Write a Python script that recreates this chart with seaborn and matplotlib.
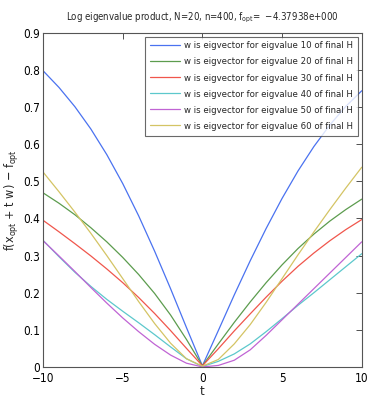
import matplotlib
matplotlib.use("Agg")
import matplotlib.pyplot as plt
import seaborn as sns
import pandas as pd

t = [-10, -9, -8, -7, -6, -5, -4, -3, -2, -1, 0, 1, 2, 3, 4, 5, 6, 7, 8, 9, 10]

eig10 = [0.798, 0.753, 0.701, 0.641, 0.572, 0.494, 0.407, 0.312, 0.211, 0.106, 0.003,
         0.098, 0.194, 0.286, 0.373, 0.454, 0.528, 0.594, 0.652, 0.702, 0.744]
eig20 = [0.469, 0.441, 0.410, 0.375, 0.337, 0.295, 0.249, 0.198, 0.140, 0.074, 0.003,
         0.062, 0.120, 0.175, 0.227, 0.275, 0.319, 0.358, 0.393, 0.424, 0.452]
eig30 = [0.395, 0.364, 0.332, 0.299, 0.264, 0.227, 0.187, 0.144, 0.098, 0.050, 0.003,
         0.049, 0.097, 0.143, 0.188, 0.231, 0.271, 0.307, 0.340, 0.370, 0.397]
eig40 = [0.341, 0.297, 0.255, 0.217, 0.182, 0.150, 0.119, 0.087, 0.054, 0.022, 0.001,
         0.015, 0.035, 0.062, 0.095, 0.130, 0.166, 0.200, 0.235, 0.270, 0.305]
eig50 = [0.340, 0.299, 0.257, 0.214, 0.172, 0.132, 0.095, 0.061, 0.032, 0.010, 0.000,
         0.004, 0.018, 0.046, 0.085, 0.127, 0.169, 0.211, 0.253, 0.295, 0.337]
eig60 = [0.525, 0.472, 0.417, 0.360, 0.300, 0.238, 0.176, 0.117, 0.064, 0.022, 0.002,
         0.020, 0.062, 0.114, 0.174, 0.238, 0.302, 0.364, 0.424, 0.482, 0.538]

labels = ["w is eigvector for eigvalue %d of final H" % k for k in (10, 20, 30, 40, 50, 60)]
series = [eig10, eig20, eig30, eig40, eig50, eig60]
colors = ["#4a72f0", "#5c9c4e", "#f0564c", "#5cc8cc", "#c064d4", "#d4c464"]

rows = []
for lab, vals in zip(labels, series):
    for tt, v in zip(t, vals):
        rows.append({"t": tt, "val": v, "series": lab})
df = pd.DataFrame(rows)

sns.set_style("white")
plt.rcParams["font.family"] = ["DejaVu Sans"]
plt.rcParams["font.stretch"] = "condensed"
plt.rcParams["mathtext.fontset"] = "dejavusans"

fig = plt.figure(figsize=(3.68, 4.01), dpi=100)
ax = fig.add_axes([0.117, 0.085, 0.866, 0.833])

sns.lineplot(data=df, x="t", y="val", hue="series", palette=colors, ax=ax,
             linewidth=0.9, legend=True)

ax.set_xlim(-10, 10)
ax.set_ylim(0, 0.9)
ax.set_xticks([-10, -5, 0, 5, 10])
ax.set_xticklabels(["\u221210", "\u22125", "0", "5", "10"])
yt = [0, 0.1, 0.2, 0.3, 0.4, 0.5, 0.6, 0.7, 0.8, 0.9]
ax.set_yticks(yt)
ax.set_yticklabels(["0"] + ["%.1f" % v for v in yt[1:]])
ax.tick_params(direction="in", length=4, width=0.6, top=True, right=True,
               labelsize=8.5, colors="#333333", labelcolor="black", pad=2)
ax.tick_params(axis="x", pad=4)
for s in ax.spines.values():
    s.set_color("#555555")
    s.set_linewidth(0.8)

ax.set_xlabel("t", fontsize=9.5, labelpad=0)
ax.set_ylabel(r"f(x$_{\rm opt}$ + t w) $-$ f$_{\rm opt}$", fontsize=9, labelpad=2)
ax.set_title(r"Log eigenvalue product, N=20, n=400, f$_{\rm opt}$=  $-$4.37938e+000",
             fontsize=6.9, pad=9)

leg = ax.legend(loc="upper right", fontsize=6.8, frameon=True, fancybox=False,
                handlelength=3.2, handletextpad=0.45, borderpad=0.5,
                labelspacing=0.75, borderaxespad=0.4)
leg.get_frame().set_edgecolor("#444444")
leg.get_frame().set_linewidth(0.8)
leg.set_title(None)

fig.savefig("out.png", dpi=100)
